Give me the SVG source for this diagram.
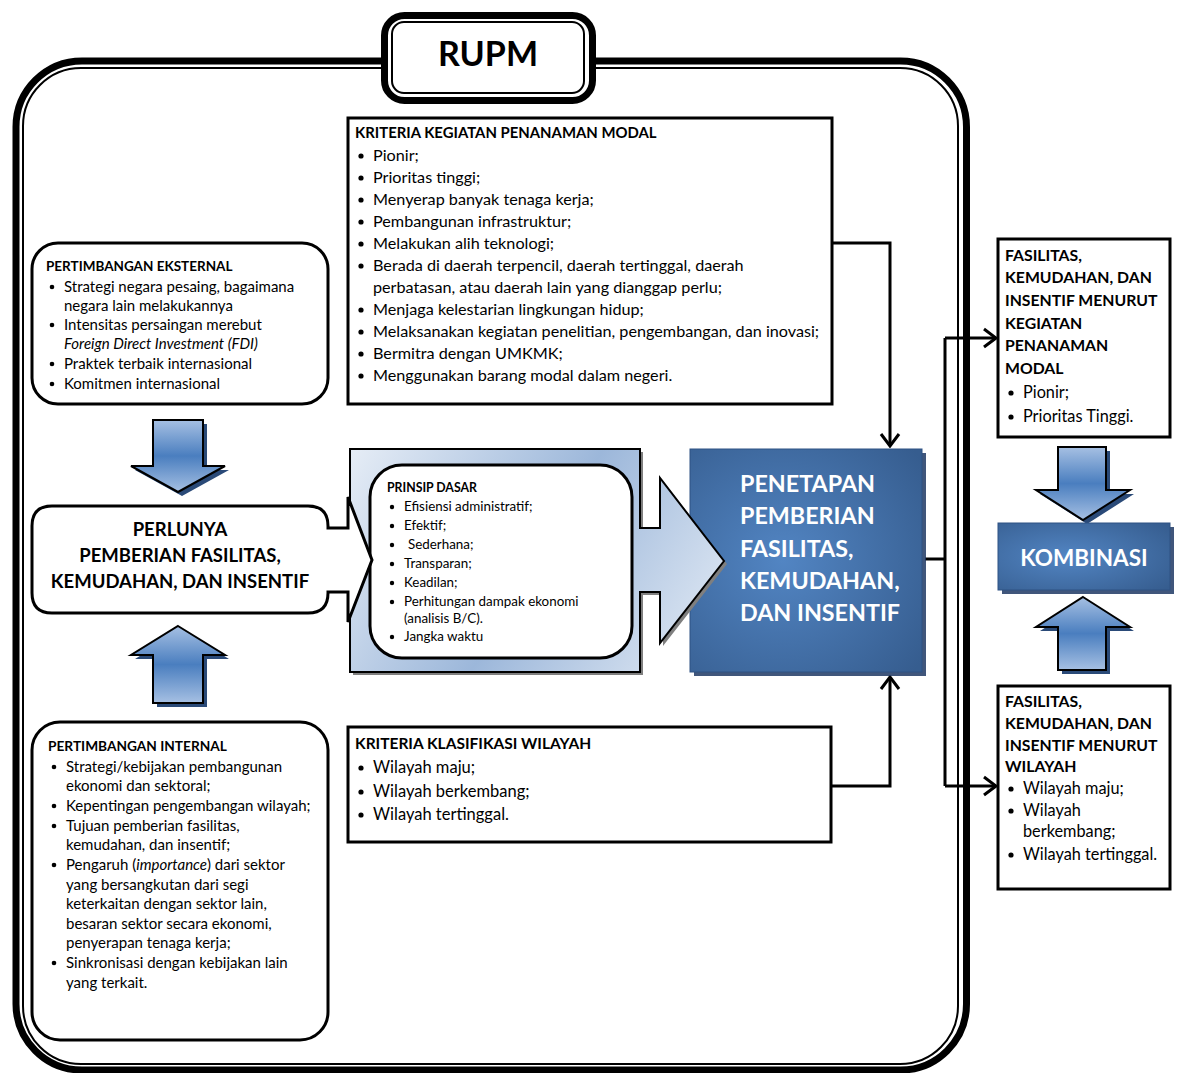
<svg xmlns="http://www.w3.org/2000/svg" width="1177" height="1073" viewBox="0 0 1177 1073">
<style>
text{font-family:Lato,"Open Sans","Liberation Sans",sans-serif;fill:#000}
.b{font-weight:bold}
.w,.w text{fill:#fff;font-weight:bold}
.box{fill:#fff;stroke:#000;stroke-width:3}
.blk{fill:url(#gBlk);stroke:#000;stroke-width:2;stroke-linejoin:miter}
.blks{fill:#2a4a78}
.con{fill:none;stroke:#000;stroke-width:3}
.t14{font-size:15px}
.t15{font-size:16.2px}
.t16{font-size:16.3px}
.t13{font-size:13.4px}
</style>
<defs>
<linearGradient id="gBlk" x1="0" y1="0" x2="0" y2="1">
<stop offset="0" stop-color="#a6c0e3"/>
<stop offset="0.5" stop-color="#4a7ebf"/>
<stop offset="1" stop-color="#a6c0e3"/>
</linearGradient>
<radialGradient id="gDark" cx="0.4" cy="0.5" r="0.75">
<stop offset="0" stop-color="#5285c3"/>
<stop offset="1" stop-color="#365d8f"/>
</radialGradient>
<linearGradient id="gLight" gradientUnits="userSpaceOnUse" x1="350" y1="449" x2="724" y2="672">
<stop offset="0" stop-color="#e6edf6"/>
<stop offset="0.5" stop-color="#9cb7da"/>
<stop offset="1" stop-color="#e6edf6"/>
</linearGradient>
<marker id="arr" viewBox="-16 -12 18 24" markerWidth="18" markerHeight="24" refX="0" refY="0" orient="auto" markerUnits="userSpaceOnUse">
<path d="M-12,-9 L0,0 L-12,9" fill="none" stroke="#000" stroke-width="3"/>
</marker>
</defs>

<g id="frame">
<rect x="16" y="61" width="950.5" height="1009" rx="66" fill="#fff" stroke="#000" stroke-width="7"/>
<rect x="23" y="68" width="935" height="996" rx="58" fill="none" stroke="#000" stroke-width="2"/>
</g>

<g id="rupm">
<rect x="384.5" y="15.5" width="208" height="85" rx="20" fill="#fff" stroke="#000" stroke-width="7"/>
<rect x="392" y="22" width="192" height="71" rx="12" fill="none" stroke="#000" stroke-width="2"/>
<text x="488" y="66" text-anchor="middle" class="b" font-size="34">RUPM</text>
</g>

<g id="connectors">
<path class="con" d="M832,243 H890 V446" marker-end="url(#arr)"/>
<path class="con" d="M831,786 H890 V677" marker-end="url(#arr)"/>
<path class="con" d="M925,559 H945"/>
<path class="con" d="M945,338 V786"/>
<path class="con" d="M945,338 H996" marker-end="url(#arr)"/>
<path class="con" d="M945,786 H996" marker-end="url(#arr)"/>
</g>

<g id="kriteria-kegiatan">
<rect class="box" x="348" y="118" width="484" height="286"/>
<text x="355" y="138" class="b" font-size="14.9">KRITERIA KEGIATAN PENANAMAN MODAL</text>
<g fill="#000">
<circle cx="361" cy="156" r="2.6"/><circle cx="361" cy="178" r="2.6"/><circle cx="361" cy="200" r="2.6"/><circle cx="361" cy="222" r="2.6"/><circle cx="361" cy="244" r="2.6"/><circle cx="361" cy="266" r="2.6"/><circle cx="361" cy="310" r="2.6"/><circle cx="361" cy="332" r="2.6"/><circle cx="361" cy="354" r="2.6"/><circle cx="361" cy="376" r="2.6"/>
</g>
<g class="t15">
<text x="373" y="161">Pionir;</text>
<text x="373" y="183">Prioritas tinggi;</text>
<text x="373" y="205">Menyerap banyak tenaga kerja;</text>
<text x="373" y="227">Pembangunan infrastruktur;</text>
<text x="373" y="249">Melakukan alih teknologi;</text>
<text x="373" y="271">Berada di daerah terpencil, daerah tertinggal, daerah</text>
<text x="373" y="293">perbatasan, atau daerah lain yang dianggap perlu;</text>
<text x="373" y="315">Menjaga kelestarian lingkungan hidup;</text>
<text x="373" y="337">Melaksanakan kegiatan penelitian, pengembangan, dan inovasi;</text>
<text x="373" y="359">Bermitra dengan UMKMK;</text>
<text x="373" y="381">Menggunakan barang modal dalam negeri.</text>
</g>
</g>

<g id="pertimbangan-eksternal">
<rect class="box" x="32" y="243" width="296" height="161" rx="26"/>
<text x="46" y="271" class="b" font-size="13.5">PERTIMBANGAN EKSTERNAL</text>
<g fill="#000"><circle cx="52" cy="287" r="2.3"/><circle cx="52" cy="325" r="2.3"/><circle cx="52" cy="364" r="2.3"/><circle cx="52" cy="384" r="2.3"/></g>
<g class="t14">
<text x="64" y="292">Strategi negara pesaing, bagaimana</text>
<text x="64" y="311">negara lain melakukannya</text>
<text x="64" y="330">Intensitas persaingan merebut</text>
<text x="64" y="349" font-style="italic">Foreign Direct Investment (FDI)</text>
<text x="64" y="369">Praktek terbaik internasional</text>
<text x="64" y="389">Komitmen internasional</text>
</g>
</g>

<g id="arrow-down-left">
<path class="blks" d="M157,424 H207 V470 H229 L182,496 L135,470 H157 Z"/>
<path class="blk" d="M153,420 H203 V466 H225 L178,492 L131,466 H153 Z"/>
</g>

<g id="arrow-up-left">
<path class="blks" d="M182,630 L229,659 H207 V707 H157 V659 H135 Z"/>
<path class="blk" d="M178,626 L225,655 H203 V703 H153 V655 H131 Z"/>
</g>

<g id="pertimbangan-internal">
<rect class="box" x="32" y="722" width="296" height="318" rx="28"/>
<text x="48" y="751" class="b" font-size="13.7">PERTIMBANGAN INTERNAL</text>
<g fill="#000"><circle cx="54" cy="767" r="2.3"/><circle cx="54" cy="806" r="2.3"/><circle cx="54" cy="826" r="2.3"/><circle cx="54" cy="865" r="2.3"/><circle cx="54" cy="963" r="2.3"/></g>
<g class="t14">
<text x="66" y="772">Strategi/kebijakan pembangunan</text>
<text x="66" y="791">ekonomi dan sektoral;</text>
<text x="66" y="811">Kepentingan pengembangan wilayah;</text>
<text x="66" y="831">Tujuan pemberian fasilitas,</text>
<text x="66" y="850">kemudahan, dan insentif;</text>
<text x="66" y="870">Pengaruh (<tspan font-style="italic">importance</tspan>) dari sektor</text>
<text x="66" y="890">yang bersangkutan dari segi</text>
<text x="66" y="909">keterkaitan dengan sektor lain,</text>
<text x="66" y="929">besaran sektor secara ekonomi,</text>
<text x="66" y="948">penyerapan tenaga kerja;</text>
<text x="66" y="968">Sinkronisasi dengan kebijakan lain</text>
<text x="66" y="988">yang terkait.</text>
</g>
</g>

<g id="penetapan">
<rect x="694" y="453" width="232" height="223" fill="#1f3864" opacity="0.85"/>
<rect x="690" y="449" width="232" height="223" fill="url(#gDark)" stroke="#2f5283" stroke-width="1"/>
<g class="w" font-size="23.3">
<text x="740" y="492">PENETAPAN</text>
<text x="740" y="524">PEMBERIAN</text>
<text x="740" y="557">FASILITAS,</text>
<text x="740" y="589">KEMUDAHAN,</text>
<text x="740" y="621">DAN INSENTIF</text>
</g>
</g>

<g id="prinsip-dasar">
<path d="M353,452 H643 V531 H663 V481 L727,564 L663,646 V595 H643 V675 H353 Z" fill="#7f7f7f"/>
<path d="M350,449 H640 V528 H660 V478 L724,561 L660,643 V592 H640 V672 H350 Z" fill="url(#gLight)" stroke="#000" stroke-width="2" stroke-linejoin="miter"/>
<rect class="box" x="370" y="465" width="262" height="193" rx="32"/>
<text x="387" y="492" class="b" font-size="12.3">PRINSIP DASAR</text>
<g fill="#000"><circle cx="392" cy="507" r="2.2"/><circle cx="392" cy="526" r="2.2"/><circle cx="392" cy="545" r="2.2"/><circle cx="392" cy="564" r="2.2"/><circle cx="392" cy="583" r="2.2"/><circle cx="392" cy="602" r="2.2"/><circle cx="392" cy="637" r="2.2"/></g>
<g class="t13">
<text x="404" y="511">Efisiensi administratif;</text>
<text x="404" y="530">Efektif;</text>
<text x="408" y="549">Sederhana;</text>
<text x="404" y="568">Transparan;</text>
<text x="404" y="587">Keadilan;</text>
<text x="404" y="606">Perhitungan dampak ekonomi</text>
<text x="404" y="623">(analisis B/C).</text>
<text x="404" y="641">Jangka waktu</text>
</g>
</g>

<g id="perlunya">
<path d="M52,506 H308 Q328,506 328,526 V528 H348 V497 L372,560 L348,622 V592 H328 V593 Q328,613 308,613 H52 Q32,613 32,593 V526 Q32,506 52,506 Z" fill="#fff" stroke="#000" stroke-width="3" stroke-linejoin="miter"/>
<text x="180" y="536" text-anchor="middle" class="b" font-size="18.5">PERLUNYA</text>
<text x="180" y="562" text-anchor="middle" class="b" font-size="18.5">PEMBERIAN FASILITAS,</text>
<text x="180" y="588" text-anchor="middle" class="b" font-size="18.5">KEMUDAHAN, DAN INSENTIF</text>
</g>

<g id="kriteria-wilayah">
<rect class="box" x="348" y="727" width="483" height="115"/>
<text x="355" y="749" class="b" font-size="15.5">KRITERIA KLASIFIKASI WILAYAH</text>
<g fill="#000"><circle cx="361" cy="768" r="2.6"/><circle cx="361" cy="792" r="2.6"/><circle cx="361" cy="815" r="2.6"/></g>
<g font-size="16.5">
<text x="373" y="773">Wilayah maju;</text>
<text x="373" y="797">Wilayah berkembang;</text>
<text x="373" y="820">Wilayah tertinggal.</text>
</g>
</g>

<g id="fasilitas-kegiatan">
<rect class="box" x="998" y="239" width="172" height="198"/>
<g class="b" font-size="15.8">
<text x="1005" y="261">FASILITAS,</text>
<text x="1005" y="283">KEMUDAHAN, DAN</text>
<text x="1005" y="306">INSENTIF MENURUT</text>
<text x="1005" y="329">KEGIATAN</text>
<text x="1005" y="351">PENANAMAN</text>
<text x="1005" y="374">MODAL</text>
</g>
<g fill="#000"><circle cx="1011" cy="393" r="2.6"/><circle cx="1011" cy="417" r="2.6"/></g>
<g class="t16">
<text x="1023" y="398">Pionir;</text>
<text x="1023" y="422">Prioritas Tinggi.</text>
</g>
</g>

<g id="arrow-down-right">
<path class="blks" d="M1062,451 H1110 V494 H1134 L1087,524 L1040,494 H1062 Z"/>
<path class="blk" d="M1058,447 H1106 V490 H1130 L1083,520 L1036,490 H1058 Z"/>
</g>

<g id="kombinasi">
<rect x="1002" y="527" width="172" height="67" fill="#1f3864" opacity="0.85"/>
<rect x="998" y="523" width="172" height="67" fill="url(#gDark)" stroke="#2f5283" stroke-width="1"/>
<text x="1084" y="566" text-anchor="middle" class="w" font-size="22.5">KOMBINASI</text>
</g>

<g id="arrow-up-right">
<path class="blks" d="M1087,601 L1134,631 H1110 V674 H1062 V631 H1040 Z"/>
<path class="blk" d="M1083,597 L1130,627 H1106 V670 H1058 V627 H1036 Z"/>
</g>

<g id="fasilitas-wilayah">
<rect class="box" x="998" y="686" width="172" height="203"/>
<g class="b" font-size="15.8">
<text x="1005" y="707">FASILITAS,</text>
<text x="1005" y="729">KEMUDAHAN, DAN</text>
<text x="1005" y="751">INSENTIF MENURUT</text>
<text x="1005" y="772">WILAYAH</text>
</g>
<g fill="#000"><circle cx="1011" cy="789" r="2.6"/><circle cx="1011" cy="811" r="2.6"/><circle cx="1011" cy="855" r="2.6"/></g>
<g class="t16">
<text x="1023" y="794">Wilayah maju;</text>
<text x="1023" y="816">Wilayah</text>
<text x="1023" y="837">berkembang;</text>
<text x="1023" y="860">Wilayah tertinggal.</text>
</g>
</g>
</svg>
